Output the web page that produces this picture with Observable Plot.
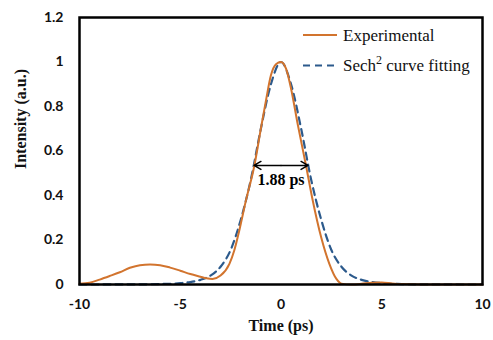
<!DOCTYPE html>
<html>
<head>
<meta charset="utf-8">
<script src="https://cdn.jsdelivr.net/npm/d3@7"></script>
<script src="https://cdn.jsdelivr.net/npm/@observablehq/plot@0.6"></script>
<style>
  html, body { margin: 0; padding: 0; background: #fff; }
  #wrap { position: relative; width: 493px; height: 340px; }
  #legend { position: absolute; left: 0; top: 0; pointer-events: none; }
</style>
</head>
<body>
<div id="wrap"></div>
<script>
// ---- data ----
const expTime = [-10, -9.5, -9, -8.5, -8, -7.5, -7, -6.5, -6, -5.5, -5, -4.5, -4, -3.7, -3.4, -3.0, -2.56, -2.32, -2.07, -1.74, -1.32, -1.0, -0.74, -0.5, -0.25, 0, 0.25, 0.5, 0.83, 1.24, 1.57, 2.0, 2.4, 2.75, 3.0, 3.5, 4.0, 4.5, 5.0, 5.5, 6.0, 7.0, 8.0, 10];
const expIntensity = [0.003, 0.008, 0.022, 0.038, 0.055, 0.075, 0.087, 0.09, 0.087, 0.076, 0.062, 0.047, 0.035, 0.028, 0.025, 0.04, 0.093, 0.153, 0.243, 0.378, 0.535, 0.70, 0.83, 0.94, 0.99, 1.0, 0.97, 0.88, 0.72, 0.535, 0.38, 0.21, 0.093, 0.025, 0.004, 0.0, 0.003, 0.008, 0.009, 0.005, 0.002, 0.0, 0.0, 0.0];
const fitTime = [-10, -7, -6, -5, -4.5, -4, -3.5, -3, -2.5, -2, -1.5, -1, -0.5, 0, 0.5, 1, 1.5, 2, 2.5, 3, 3.5, 4, 4.5, 5, 6, 7, 10];
const fitIntensity = [0, 0.0005, 0.002, 0.006, 0.011, 0.021, 0.04, 0.08, 0.155, 0.29, 0.47, 0.70, 0.90, 1.0, 0.90, 0.70, 0.47, 0.29, 0.155, 0.08, 0.04, 0.021, 0.011, 0.006, 0.002, 0.0005, 0];
const xTicks = [-10, -5, 0, 5, 10];
const yTicks = [0, 0.2, 0.4, 0.6, 0.8, 1, 1.2];
const fwhmEdges = [-1.34, 1.34];
const fwhmLevel = 0.535;
const fwhmLabel = "1.88 ps";
const seriesNames = ["Experimental", "Sech"];
const xTitle = "Time (ps)";
const yTitle = "Intensity (a.u.)";

const orange = "#D2742E";
const blue = "#2C5A8C";

const expData = expTime.map((t, i) => ({t, v: expIntensity[i]}));
const fitData = fitTime.map((t, i) => ({t, v: fitIntensity[i]}));
const arrows = fwhmEdges.map(e => ({x1: 0, x2: e, y: fwhmLevel}));

const chart = Plot.plot({
  width: 493,
  height: 340,
  marginLeft: 79,
  marginRight: 11,
  marginTop: 17,
  marginBottom: 56,
  style: {fontFamily: "Lato, 'Open Sans', sans-serif", fontSize: "14px", fontWeight: "bold", color: "#111", background: "#fff"},
  x: {domain: [-10, 10]},
  y: {domain: [0, 1.2]},
  marks: [
    Plot.axisX({ticks: xTicks, tickSize: 0, tickPadding: 15, label: null, tickFormat: d => String(d)}),
    Plot.axisY({ticks: yTicks, tickSize: 0, tickPadding: 16, label: null, tickFormat: d => String(d)}),
    Plot.line(fitData, {x: "t", y: "v", stroke: blue, strokeWidth: 2.2, strokeDasharray: "7,5", curve: "monotone-x"}),
    Plot.line(expData, {x: "t", y: "v", stroke: orange, strokeWidth: 2, curve: "monotone-x"}),
    Plot.arrow(arrows, {x1: "x1", x2: "x2", y1: "y", y2: "y", stroke: "black", strokeWidth: 1.5, bend: 0, headLength: 8}),
    Plot.text([fwhmLabel], {x: 0, y: fwhmLevel, dy: 14, text: d => d, fontFamily: "'Liberation Serif', 'Times New Roman', serif", fontSize: 16, fontWeight: "bold", fill: "black"}),
    Plot.text([xTitle], {frameAnchor: "bottom", dy: 46, text: d => d, fontFamily: "'Liberation Serif', 'Times New Roman', serif", fontSize: 16, fontWeight: "bold", fill: "#111"}),
    Plot.text([yTitle], {frameAnchor: "left", dx: -59, dy: 18, rotate: -90, text: d => d, fontFamily: "'Liberation Serif', 'Times New Roman', serif", fontSize: 16, fontWeight: "bold", fill: "#111"}),
    Plot.frame({stroke: "black", strokeWidth: 2.5})
  ]
});

const wrap = document.getElementById("wrap");
wrap.appendChild(chart);

// legend overlay
const ns = "http://www.w3.org/2000/svg";
const leg = document.createElementNS(ns, "svg");
leg.setAttribute("id", "legend");
leg.setAttribute("width", 493);
leg.setAttribute("height", 340);
leg.innerHTML = `
  <line x1="303" x2="337" y1="35" y2="35" stroke="${orange}" stroke-width="2"/>
  <text x="343" y="41" font-family="'Liberation Serif','Times New Roman',serif" font-size="17" fill="#111">${seriesNames[0]}</text>
  <line x1="303" x2="337" y1="65.5" y2="65.5" stroke="${blue}" stroke-width="2.2" stroke-dasharray="7,5"/>
  <text x="343" y="71" font-family="'Liberation Serif','Times New Roman',serif" font-size="17" fill="#111">${seriesNames[1]}<tspan dy="-7" font-size="12">2</tspan><tspan dy="7"> curve fitting</tspan></text>
`;
wrap.appendChild(leg);
</script>
</body>
</html>
